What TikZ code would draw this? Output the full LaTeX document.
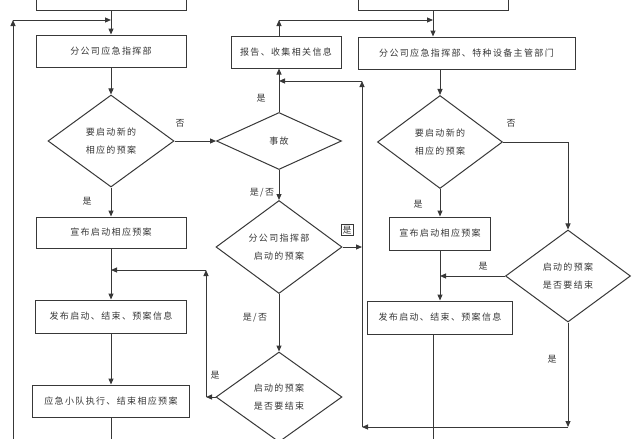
\documentclass[tikz,border=0pt]{standalone}
\usepackage{fontspec}
\newfontfamily\cjk[LetterSpace=15]{Noto Sans CJK SC}
\usetikzlibrary{shapes.geometric,arrows.meta}

\begin{document}
\begin{tikzpicture}[
    x = 1pt, y = -1pt, % one unit per pixel
    > = {Stealth[length=6pt, width=5pt, inset=0pt]}, % arrow head style
    color = black!78,
    line width = 1pt, % line style
    box/.style = {draw, rectangle, minimum height=32, inner sep=0pt,
        font=\cjk\fontsize{9}{18}\selectfont},
    decision/.style = {draw, diamond, inner sep=0pt, align=center,
        font=\cjk\fontsize{9}{18}\selectfont},
    lbl/.style = {inner sep=0pt, font=\cjk\fontsize{9}{10}\selectfont},
    lblbox/.style = {lbl, draw, inner sep=1.5pt, line width=0.7pt}
]
\path[use as bounding box, fill=white] (0,0) rectangle (640,439);

% Nodes
\node[box, minimum width=150, minimum height=30] (topL) at (111,-5) {};
\node[box, minimum width=150] (cmdL) at (111,51) {分公司应急指挥部};
\node[decision, minimum width=126, minimum height=92] (askL) at (111,141) {要启动新的\\相应的预案};
\node[box, minimum width=150, minimum height=31] (startL) at (111,232.5) {宣布启动相应预案};
\node[box, minimum width=151, minimum height=33] (pubL) at (111,316.5) {发布启动、结束、预案信息};
\node[box, minimum width=157] (execL) at (111,401) {应急小队执行、结束相应预案};

\node[box, minimum width=110] (report) at (286,52) {报告、收集相关信息};
\node[decision, minimum width=125, minimum height=57] (accident) at (279,141) {事故};
\node[decision, minimum width=126, minimum height=93] (branch) at (279,247) {分公司指挥部\\启动的预案};
\node[decision, minimum width=126, minimum height=90] (endM) at (279,397) {启动的预案\\是否要结束};

\node[box, minimum width=150, minimum height=30] (topR) at (433,-5) {};
\node[box, minimum width=217] (cmdR) at (466.5,53) {分公司应急指挥部、特种设备主管部门};
\node[decision, minimum width=125, minimum height=93] (askR) at (440,142) {要启动新的\\相应的预案};
\node[box, minimum width=101, minimum height=33] (startR) at (440,233.5) {宣布启动相应预案};
\node[box, minimum width=145, minimum height=33] (pubR) at (440,317.5) {发布启动、结束、预案信息};
\node[decision, minimum width=125, minimum height=92] (endR) at (568,276) {启动的预案\\是否要结束};

% Free ends and corners
\coordinate (loopL) at (13,439);
\coordinate (cornerL) at (13,20);
\coordinate (joinL) at (111,20);
\coordinate (outL) at (111,439);
\coordinate (upM) at (279,20);
\coordinate (joinM) at (433,20);
\coordinate (feedM) at (279,81);
\coordinate (busTop) at (362,81);
\coordinate (busMid) at (362,247);
\coordinate (busBot) at (362,427);
\coordinate (riseL) at (206,270);
\coordinate (backL) at (111,270);
\coordinate (exitL) at (206,397);
\coordinate (turnR) at (568,142);
\coordinate (backR) at (440,276);
\coordinate (dropR) at (568,427);
\coordinate (outR) at (433,439);

% Labels
\node[lbl] (noL) at (180,123) {否};
\node[lbl] (yesL) at (87,201) {是};
\node[lbl] (yesUp) at (261,98) {是};
\node[lbl] (eitherA) at (262,193) {是/否};
\node[lblbox] (yesBus) at (347,230) {是};
\node[lbl] (eitherB) at (255,318) {是/否};
\node[lbl] (yesBack) at (215,375) {是};
\node[lbl] (noR) at (511,123) {否};
\node[lbl] (yesR) at (418,204) {是};
\node[lbl] (yesBackR) at (483,266) {是};
\node[lbl] (yesDrop) at (552,359) {是};

% Edges
\draw[->] (topL) -- (cmdL);
\draw[->] (cmdL) -- (askL);
\draw[->] (askL) -- (startL);
\draw[->] (startL) -- (pubL);
\draw[->] (pubL) -- (execL);
\draw (execL) -- (outL);
\draw[->] (loopL) -- (cornerL);
\draw[->] (cornerL) -- (joinL);
\draw[->] (askL) -- (accident);

\draw[->] (accident) -- (accident.north |- report.south);
\draw[->] (report.north -| accident.north) -- (upM);
\draw[->] (upM) -- (joinM);
\draw[->] (accident) -- (branch);
\draw[->] (branch) -- (endM);
\draw[->] (branch) -- (busMid);
\draw[->] (endM) -- (exitL);
\draw[->] (exitL) -- (riseL);
\draw[->] (riseL) -- (backL);

\draw[->] (topR.south) -- (topR.south |- cmdR.north);
\draw[->] (cmdR.south -| askR.north) -- (askR);
\draw[->] (askR) -- (startR);
\draw[->] (startR) -- (pubR);
\draw (pubR.south -| outR) -- (outR);
\draw (askR) -- (turnR);
\draw[->] (turnR) -- (endR);
\draw[->] (endR) -- (backR);
\draw[->] (endR) -- (dropR);
\draw[->] (dropR) -- (busBot);
\draw[->] (busBot) -- (busTop);
\draw[->] (busTop) -- (feedM);

\end{tikzpicture}
\end{document}
